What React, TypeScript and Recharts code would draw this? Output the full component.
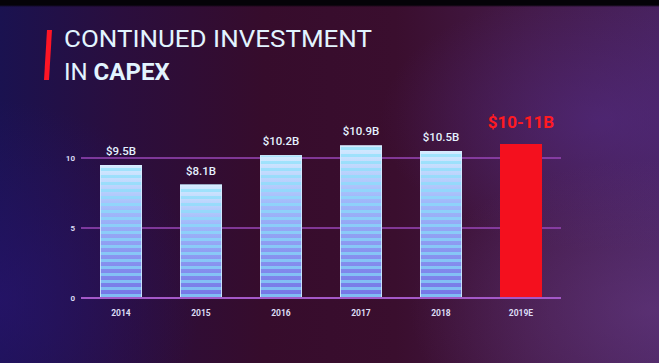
import React from "react";
import { BarChart, Bar, XAxis, YAxis, CartesianGrid, LabelList } from "recharts";

const years = ["2014", "2015", "2016", "2017", "2018", "2019E"];
const capex = [9.5, 8.1, 10.2, 10.9, 10.5, 11];
const valueLabels = ["$9.5B", "$8.1B", "$10.2B", "$10.9B", "$10.5B", "$10-11B"];
const yTicks = [0, 5, 10];

const data = years.map((y, i) => ({ year: y, value: capex[i], label: valueLabels[i], estimate: y.endsWith("E") }));

const BarShape = (props: any) => {
  const { x, y, width, height, payload } = props;
  if (payload.estimate) {
    return <rect x={x} y={y} width={width} height={height} fill="#f4101e" />;
  }
  return (
    <g>
      <rect x={x} y={y} width={width} height={height} fill="url(#barGrad)" />
      <rect x={x} y={y} width={width} height={height} fill="url(#stripes)" />
      <rect x={x + 0.5} y={y + 0.5} width={width - 1} height={height - 1} fill="none" stroke="#d8ecff" strokeOpacity={0.8} />
    </g>
  );
};

const ValueLabel = (props: any) => {
  const { x, y, width, index } = props;
  const d = data[index];
  if (d.estimate) {
    return (
      <text x={x + width / 2} y={y - 16} textAnchor="middle" fill="#ff1a22" fontSize={17} fontWeight={700} fontFamily="Roboto, sans-serif">
        {d.label}
      </text>
    );
  }
  return (
    <text x={x + width / 2} y={y - 10} textAnchor="middle" fill="#e4f2ff" fontSize={11.5} fontWeight={500} fontFamily="Roboto, sans-serif">
      {d.label}
    </text>
  );
};

export default function App() {
  return (
    <div
      style={{
        position: "fixed",
        left: 0,
        top: 0,
        width: 659,
        height: 363,
        overflow: "hidden",
        background:
          "linear-gradient(180deg, #050308 0px, #050308 5px, rgba(0,0,0,0) 7px), radial-gradient(ellipse 240px 150px at 650px 310px, rgba(110,65,140,0.45), rgba(0,0,0,0)), radial-gradient(ellipse 220px 130px at 600px 120px, rgba(85,45,140,0.5), rgba(0,0,0,0)), radial-gradient(ellipse 200px 200px at 0px 300px, rgba(40,20,110,0.7), rgba(0,0,0,0)), linear-gradient(90deg, #1a1250 0%, #2a0e3e 18%, #360c2c 40%, #3a0e2e 60%, #441a48 80%, #48225e 100%)",
      }}
    >
      <svg width={659} height={363} style={{ position: "absolute", left: 0, top: 0 }}>
        <polygon points="47,30 52,30 49,80 44,80" fill="#ff1525" />
        <text x={64} y={47} fill="#e2f4ff" fontSize={24} fontFamily="Roboto, sans-serif" textLength={308} lengthAdjust="spacingAndGlyphs">
          CONTINUED INVESTMENT
        </text>
        <text x={64} y={80} fill="#e2f4ff" fontSize={24} fontFamily="Roboto, sans-serif">
          IN <tspan fontWeight={700}>CAPEX</tspan>
        </text>
      </svg>
      <div style={{ position: "absolute", left: 0, top: 0 }}>
        <BarChart width={659} height={363} data={data} margin={{ top: 130, right: 98, bottom: 35, left: 61 }} barSize={42}>
          <defs>
            <linearGradient id="barGrad" x1="0" y1="0" x2="0" y2="1">
              <stop offset="0%" stopColor="#d4ecff" />
              <stop offset="35%" stopColor="#a0b8fa" />
              <stop offset="100%" stopColor="#7474e6" />
            </linearGradient>
            <pattern id="stripes" patternUnits="userSpaceOnUse" width={10} height={7}>
              <rect x={0} y={0} width={10} height={3} fill="#86e0fa" fillOpacity={0.65} />
            </pattern>
          </defs>
          <CartesianGrid vertical={false} horizontalValues={[5, 10]} stroke="#9a46b8" strokeWidth={1.5} />
          <XAxis
            dataKey="year"
            axisLine={{ stroke: "#a458c8", strokeWidth: 2 }}
            tickLine={false}
            tickMargin={6}
            tick={{ fill: "#dcdcf4", fontSize: 8.5, fontWeight: 700, fontFamily: "Roboto, sans-serif" }}
          />
          <YAxis
            width={20}
            domain={[0, 12]}
            ticks={yTicks}
            axisLine={false}
            tickLine={false}
            tickMargin={0}
            tick={{ fill: "#dcdcf4", fontSize: 8, fontWeight: 700, fontFamily: "Roboto, sans-serif" }}
          />
          <Bar dataKey="value" isAnimationActive={false} shape={BarShape}>
            <LabelList dataKey="label" content={ValueLabel} />
          </Bar>
        </BarChart>
      </div>
    </div>
  );
}
